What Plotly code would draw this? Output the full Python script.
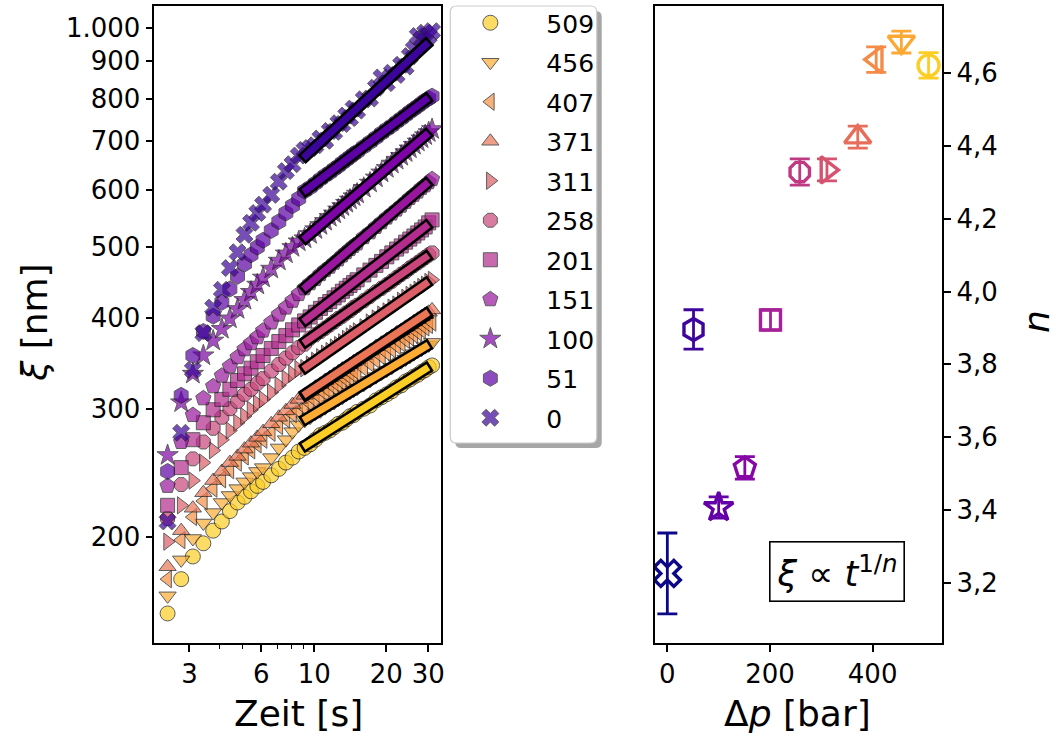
import math
import plotly.graph_objects as go

W, H = 1056, 736

# ---------------- data ----------------
pressures = [509, 456, 407, 371, 311, 258, 201, 151, 100, 51, 0]
labels = ["509", "456", "407", "371", "311", "258", "201", "151", "100", "51", "0"]

time_s = [2.43, 2.77, 3.1, 3.43, 3.77, 4.1, 4.43, 4.77, 5.1, 5.43, 5.77, 6.1,
          6.6, 7.1, 7.6, 8.1, 8.6, 9.1, 9.6, 10.1, 10.6, 11.1, 11.6, 12.1, 12.6,
          13.1, 13.6, 14.1, 14.6, 15.1, 16.1, 17.1, 18.1, 19.1, 20.1, 21.1, 22.1,
          23.1, 24.1, 25.1, 26.1, 27.1, 28.1, 29.1, 30.1, 31.1]

xi_509 = [157, 175, 188, 196, 204, 210, 217, 223, 227, 231, 235, 238, 243, 248, 253, 257, 262,
          265, 268, 272, 276, 278, 280, 283, 286, 287, 290, 293, 294, 297, 300, 303, 308, 311,
          314, 317, 321, 323, 327, 329, 332, 334, 337, 339, 342, 344]
xi_456 = [166, 186, 199, 209, 216, 223, 228, 233, 238, 242, 246, 249, 257, 265, 272, 279, 285,
          289, 292, 296, 298, 301, 304, 306, 309, 311, 314, 316, 318, 320, 324, 328, 332, 336,
          339, 342, 346, 348, 351, 354, 357, 360, 362, 365, 367, 370]
xi_407 = [175, 198, 213, 224, 233, 240, 247, 253, 258, 263, 268, 272, 278, 284, 290, 295, 298,
          301, 305, 308, 311, 315, 317, 321, 323, 326, 329, 331, 334, 336, 341, 346, 350, 354,
          358, 362, 366, 369, 373, 376, 379, 382, 385, 388, 391, 394]
xi_371 = [182, 204, 219, 230, 239, 246, 253, 258, 264, 269, 274, 279, 286, 292, 298, 304, 309,
          313, 317, 321, 324, 328, 331, 334, 337, 340, 342, 345, 348, 350, 355, 360, 365, 369,
          373, 377, 381, 384, 388, 391, 395, 398, 401, 404, 407, 410]
xi_311 = [197, 221, 239, 253, 263, 272, 280, 287, 293, 299, 305, 309, 316, 323, 330, 335, 340,
          341, 345, 349, 353, 357, 360, 364, 367, 370, 374, 377, 380, 383, 388, 394, 399, 404,
          408, 413, 417, 422, 426, 430, 433, 437, 441, 444, 448, 451]
xi_258 = [212, 236, 256, 270, 282, 292, 300, 307, 314, 319, 325, 330, 338, 345, 352, 358, 364,
          368, 375, 379, 383, 387, 391, 395, 399, 402, 406, 409, 413, 416, 422, 428, 434, 439,
          444, 449, 454, 459, 463, 468, 472, 476, 480, 484, 488, 491]
xi_201 = [221, 249, 272, 287, 299, 309, 319, 328, 335, 341, 348, 355, 363, 371, 378, 385, 391,
          396, 401, 407, 412, 417, 421, 426, 430, 435, 439, 443, 447, 451, 458, 465, 472, 478,
          485, 491, 497, 502, 508, 513, 518, 523, 528, 533, 540, 545]
xi_151 = [235, 270, 294, 310, 322, 333, 343, 353, 362, 369, 376, 384, 394, 404, 413, 422, 431,
          439, 446, 452, 459, 465, 470, 476, 481, 487, 492, 497, 502, 506, 516, 524, 533, 541,
          549, 556, 563, 570, 577, 584, 590, 596, 603, 608, 614, 620]
xi_100 = [259, 306, 335, 355, 372, 386, 399, 411, 423, 434, 444, 454, 467, 479, 490, 500, 509,
          514, 521, 529, 536, 543, 550, 556, 563, 569, 575, 581, 587, 592, 603, 613, 623, 633,
          642, 651, 659, 667, 675, 683, 691, 698, 705, 712, 719, 726]
xi_51 = [246, 313, 355, 383, 402, 420, 438, 456, 474, 488, 500, 511, 527, 542, 557, 570, 583,
         597, 604, 612, 620, 627, 633, 640, 646, 653, 659, 665, 671, 676, 687, 697, 707, 717,
         726, 734, 743, 751, 759, 767, 774, 781, 788, 795, 800, 806]
xi_0 = [210, 278, 339, 381, 413, 437, 468, 492, 520, 540, 557, 572, 590, 615, 636, 650, 668,
        680, 684, 690, 705, 700, 722, 720, 740, 738, 758, 752, 775, 770, 798, 800, 828, 855,
        840, 868, 862, 890, 885, 915, 935, 975, 965, 985, 975, 990]

xi_series = [xi_509, xi_456, xi_407, xi_371, xi_311, xi_258, xi_201, xi_151, xi_100, xi_51, xi_0]

# power-law fit lines (values at start and end of the fit window)
fit_t = [9, 30]
fit_xi_start = [266, 289, 312, 313, 340, 369, 395, 438, 512, 595, 663]
fit_xi_end = [342, 367, 405, 407, 448, 487, 537, 614, 717, 802, 955]

# exponent n vs pressure difference
n_val = [4.621, 4.685, 4.637, 4.424, 4.334, 4.328, 3.922, 3.516, 3.407, 3.896, 3.226]
n_err = [0.035, 0.030, 0.035, 0.030, 0.030, 0.036, 0.028, 0.031, 0.029, 0.054, 0.111]

# ---------------- styles ----------------
sym_left = ["circle", "triangle-down", "triangle-left", "triangle-up", "triangle-right",
            "octagon", "square", "pentagon", "star", "hexagon", "x"]
size_left = [15, 15, 15, 15, 15, 15, 14, 16, 16, 16, 15]
sym_right = ["circle-open", "triangle-down-open", "triangle-left-open", "triangle-up-open",
             "triangle-right-open", "octagon-open", "square-open", "pentagon-open", "star-open",
             "hexagon-open", "x-open"]
size_right = [21, 23, 23, 23, 23, 21, 20, 22, 22, 22, 23]
colors_left = ["#fcce25", "#fdac33", "#f69142", "#eb7655", "#dc5e66", "#ca457a",
               "#b32c8e", "#9a169f", "#7e03a8", "#5c01a6", "#3b049a"]
colors_right = ["#fcce25", "#fca835", "#f58b47", "#e76e5b", "#d5536f", "#c03a83",
                "#a62098", "#8606a6", "#6300a7", "#3e049c", "#0d0887"]

FONT = "DejaVu Sans"

# axis geometry
xl_dom = [155 / W, 443 / W]
xr_dom = [657 / W, 946 / W]
y_dom = [93 / H, 730 / H]
xl_range = [math.log10(2.14), math.log10(34.0)]
yl_range = [math.log10(143), math.log10(1072)]

fig = go.Figure()

for i, p in enumerate(pressures):
    fig.add_trace(go.Scatter(
        x=time_s, y=xi_series[i], mode="markers", name=labels[i],
        xaxis="x", yaxis="y", legendgroup=labels[i],
        marker=dict(symbol=sym_left[i], size=size_left[i], color=colors_left[i],
                    opacity=0.7, line=dict(color="#1a1a1a", width=1)),
    ))

# fit lines (black outline under a coloured core)
px_dec_x = (xl_dom[1] - xl_dom[0]) * W / (xl_range[1] - xl_range[0])
px_dec_y = (y_dom[1] - y_dom[0]) * H / (yl_range[1] - yl_range[0])
for i, p in enumerate(pressures):
    lx0, lx1 = math.log10(fit_t[0]), math.log10(fit_t[1])
    ly0, ly1 = math.log10(fit_xi_start[i]), math.log10(fit_xi_end[i])
    dx, dy = (lx1 - lx0) * px_dec_x, (ly1 - ly0) * px_dec_y
    L = math.hypot(dx, dy)
    e = 2.6
    ex, ey = e * dx / L / px_dec_x, e * dy / L / px_dec_y
    fig.add_trace(go.Scatter(
        x=[10 ** (lx0 - ex), 10 ** (lx1 + ex)], y=[10 ** (ly0 - ey), 10 ** (ly1 + ey)],
        mode="lines", line=dict(color="black", width=12), showlegend=False,
        hoverinfo="skip", xaxis="x", yaxis="y"))
    fig.add_trace(go.Scatter(
        x=fit_t, y=[fit_xi_start[i], fit_xi_end[i]],
        mode="lines", line=dict(color=colors_left[i], width=7), showlegend=False,
        hoverinfo="skip", xaxis="x", yaxis="y"))

# right panel
for i, p in enumerate(pressures):
    fig.add_trace(go.Scatter(
        x=[p], y=[n_val[i]], mode="markers", showlegend=False, xaxis="x2", yaxis="y2",
        marker=dict(symbol=sym_right[i], size=size_right[i], color=colors_right[i],
                    line=dict(color=colors_right[i], width=3.4)),
        error_y=dict(type="data", array=[n_err[i]], color=colors_right[i],
                     thickness=2.8, width=10),
    ))

axis_common = dict(showline=True, linecolor="black", linewidth=1.6, mirror=True,
                   showgrid=False, zeroline=False, ticks="outside", ticklen=7,
                   tickwidth=1.5, tickcolor="black",
                   tickfont=dict(family=FONT, size=26, color="black"))

fig.update_layout(
    width=W, height=H, autosize=False,
    margin=dict(l=0, r=0, t=0, b=0),
    paper_bgcolor="white", plot_bgcolor="white",
    font=dict(family=FONT, color="black"),
    xaxis=dict(type="log", domain=xl_dom, range=xl_range, anchor="y",
               tickmode="array", tickvals=[3, 6, 10, 20, 30],
               ticktext=["3", "6", "10", "20", "30"],
               minor=dict(tickmode="array", tickvals=[4, 5, 7, 8, 9], ticks="outside",
                          ticklen=4, tickwidth=1.2, tickcolor="black", showgrid=False),
               **axis_common),
    yaxis=dict(type="log", domain=y_dom, range=yl_range, anchor="x",
               tickmode="array", tickvals=[200, 300, 400, 500, 600, 700, 800, 900, 1000],
               ticktext=["200", "300", "400", "500", "600", "700", "800", "900", "1.000"],
               **axis_common),
    xaxis2=dict(domain=xr_dom, range=[-25, 536], anchor="y2",
                tickmode="array", tickvals=[0, 200, 400], ticktext=["0", "200", "400"],
                **axis_common),
    yaxis2=dict(domain=y_dom, range=[3.035, 4.784], anchor="x2", side="right",
                tickmode="array", tickvals=[3.2, 3.4, 3.6, 3.8, 4.0, 4.2, 4.4, 4.6],
                ticktext=["3,2", "3,4", "3,6", "3,8", "4,0", "4,2", "4,4", "4,6"],
                **axis_common),
    legend=dict(x=436 / W, y=1.0, xanchor="left", yanchor="top",
                bgcolor="rgba(0,0,0,0)", borderwidth=0,
                font=dict(family=FONT, size=25, color="black"),
                itemsizing="trace", tracegroupgap=4, itemwidth=102),
)


def rrect(x0, y0, x1, y1, r):
    # pixel coordinates (y down) -> paper path with rounded corners
    def P(x, y):
        return f"{x / W:.5f},{1 - y / H:.5f}"
    return (f"M {P(x0 + r, y0)} L {P(x1 - r, y0)} Q {P(x1, y0)} {P(x1, y0 + r)} "
            f"L {P(x1, y1 - r)} Q {P(x1, y1)} {P(x1 - r, y1)} L {P(x0 + r, y1)} "
            f"Q {P(x0, y1)} {P(x0, y1 - r)} L {P(x0, y0 + r)} Q {P(x0, y0)} {P(x0 + r, y0)} Z")


fig.add_shape(type="path", xref="paper", yref="paper", path=rrect(457, 11, 604, 448, 6),
              fillcolor="#a6a6a6", line=dict(width=0), layer="above")
fig.add_shape(type="path", xref="paper", yref="paper", path=rrect(452, 6, 599, 443, 6),
              fillcolor="white", line=dict(color="#cccccc", width=1.2), layer="above")

annots = [
    dict(x=34 / W, y=1 - 322 / H, text="<i>ξ</i> [nm]", textangle=-90, size=36),
    dict(x=300 / W, y=1 - 713 / H, text="Zeit [s]", textangle=0, size=36),
    dict(x=801 / W, y=1 - 713 / H, text="Δ<i>p</i> [bar]", textangle=0, size=36),
    dict(x=1040 / W, y=1 - 322 / H, text="<i>n</i>", textangle=-90, size=36),
]
for a in annots:
    fig.add_annotation(x=a["x"], y=a["y"], xref="paper", yref="paper", text=a["text"],
                       textangle=a["textangle"], showarrow=False, xanchor="center",
                       yanchor="middle", font=dict(family=FONT, size=a["size"], color="black"))

fig.add_annotation(x=840 / W, y=1 - 571 / H, xref="paper", yref="paper",
                   text="<i>ξ</i> ∝ <i>t</i><sup>1/<i>n</i></sup>", showarrow=False,
                   xanchor="center", yanchor="middle",
                   font=dict(family=FONT, size=35, color="black"),
                   bordercolor="black", borderwidth=1.6, borderpad=6, bgcolor="white")

fig.write_html("out.html")
